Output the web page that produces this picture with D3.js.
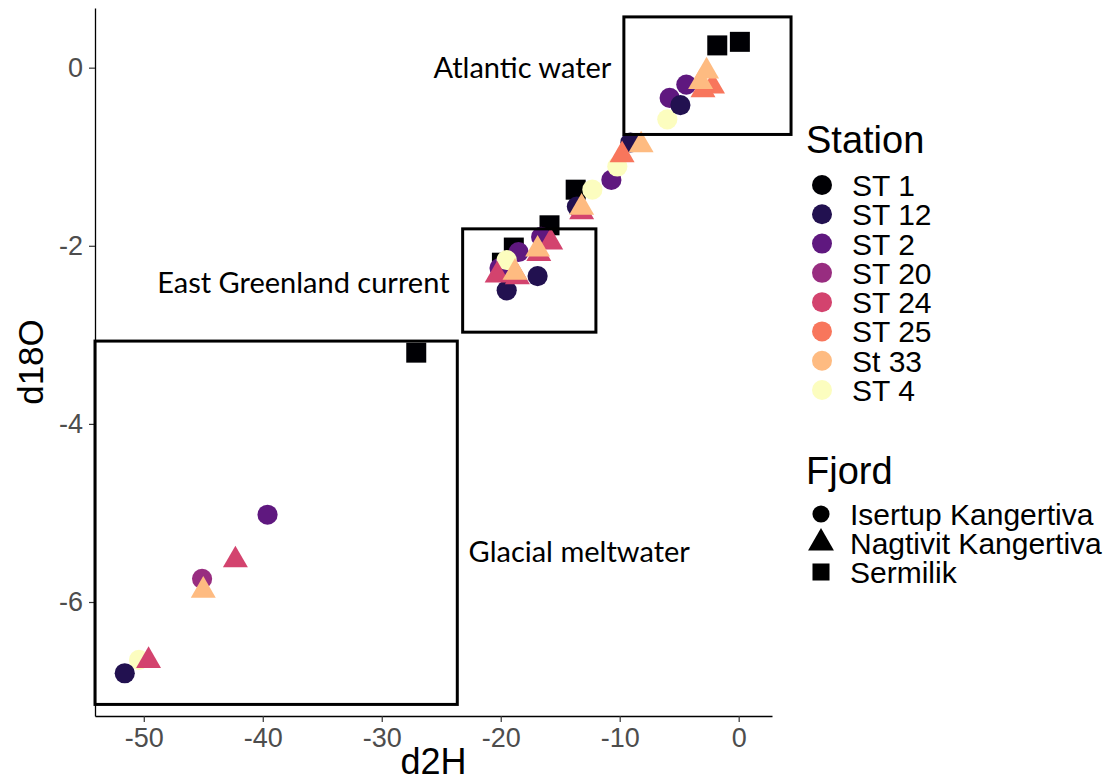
<!DOCTYPE html>
<html>
<head>
<meta charset="utf-8">
<script src="https://cdn.jsdelivr.net/npm/d3@7"></script>
<style>
  body { margin: 0; background: #fff; }
  svg { display: block; font-family: "Liberation Sans", Arial, sans-serif; }
  .tick text { fill: #4d4d4d; font-size: 27px; }
  .note { font-family: Lato, "Open Sans", sans-serif; font-size: 29px; fill: #000; }
</style>
</head>
<body>
<svg width="1117" height="783"></svg>
<script>
// station levels (legend order) and fjord levels
const STATIONS = ["ST 1", "ST 12", "ST 2", "ST 20", "ST 24", "ST 25", "St 33", "ST 4"];
const FJORDS = ["Isertup Kangertiva", "Nagtivit Kangertiva", "Sermilik"];

// samples, in drawing order
const station = [
    "ST 1", "ST 1", "ST 1", "ST 1", "ST 1", "ST 1", "ST 1",
    "ST 2", "ST 2", "ST 2", "ST 2", "ST 2", "ST 2", "ST 2",
    "ST 20",
    "ST 4", "ST 4", "ST 4", "ST 4", "ST 4",
    "ST 12", "ST 12", "ST 12", "ST 12", "ST 12", "ST 12",
    "ST 24", "ST 24", "ST 24", "ST 24", "ST 24", "ST 24", "ST 24",
    "ST 25", "ST 25", "ST 25",
    "St 33", "St 33", "St 33", "St 33", "St 33", "St 33", "St 33"
];
const fjord = [
    "Sermilik", "Sermilik", "Sermilik", "Sermilik", "Sermilik", "Sermilik", "Sermilik",
    "Isertup Kangertiva", "Isertup Kangertiva", "Isertup Kangertiva", "Isertup Kangertiva",
    "Isertup Kangertiva", "Isertup Kangertiva", "Isertup Kangertiva",
    "Isertup Kangertiva",
    "Isertup Kangertiva", "Isertup Kangertiva", "Isertup Kangertiva", "Isertup Kangertiva", "Isertup Kangertiva",
    "Isertup Kangertiva", "Isertup Kangertiva", "Isertup Kangertiva", "Isertup Kangertiva",
    "Isertup Kangertiva", "Isertup Kangertiva",
    "Nagtivit Kangertiva", "Nagtivit Kangertiva", "Nagtivit Kangertiva", "Nagtivit Kangertiva",
    "Nagtivit Kangertiva", "Nagtivit Kangertiva", "Nagtivit Kangertiva",
    "Nagtivit Kangertiva", "Nagtivit Kangertiva", "Nagtivit Kangertiva",
    "Nagtivit Kangertiva", "Nagtivit Kangertiva", "Nagtivit Kangertiva", "Nagtivit Kangertiva",
    "Nagtivit Kangertiva", "Nagtivit Kangertiva", "Nagtivit Kangertiva"
];
const d2H = [
    -1.8, 0.1, -13.7, -15.9, -18.9, -19.9, -27.1,
    -4.4, -5.8, -10.7, -16.6, -18.5, -20.1, -39.6,
    -45.1,
    -6.0, -10.2, -12.3, -19.5, -50.4,
    -4.9, -9.1, -13.6, -16.9, -19.5, -51.6,
    -13.2, -15.8, -16.8, -20.3, -18.6, -42.3, -49.6,
    -2.2, -3.0, -9.8,
    -3.2, -2.7, -8.2, -13.2, -16.9, -18.8, -45.0
];
const d18O = [
    0.25, 0.29, -1.37, -1.77, -2.02, -2.19, -3.2,
    -0.19, -0.34, -1.26, -1.9, -2.07, -2.25, -5.02,
    -5.74,
    -0.58, -1.11, -1.37, -2.16, -6.65,
    -0.42, -0.84, -1.56, -2.34, -2.5, -6.8,
    -1.62, -1.96, -2.09, -2.33, -2.35, -5.53, -6.66,
    -0.21, -0.25, -0.98,
    -0.16, -0.04, -0.87, -1.57, -2.04, -2.3, -5.87
];

// annotation boxes (data units) and their labels
const boxNames = ["Atlantic water", "East Greenland current", "Glacial meltwater"];
const boxX = [[-9.65, 4.4], [-23.2, -12.0], [-54.1, -23.65]];
const boxY = [[0.57, -0.75], [-1.81, -2.97], [-3.07, -7.15]];
const labelX = [-10.7, -24.3, -22.7];
const labelY = [-0.12, -2.53, -5.55];
const labelAnchor = ["end", "end", "start"];

const xTicks = [-50, -40, -30, -20, -10, 0];
const yTicks = [-6, -4, -2, 0];

const svg = d3.select("svg");
const mLeft = 95, mRight = 772, mTop = 8, mBottom = 716;

const x = d3.scaleLinear().domain([-54.1, 2.8]).range([mLeft, mRight]);
const y = d3.scaleLinear().domain([-7.28, 0.67]).range([mBottom, mTop]);

const color = d3.scaleOrdinal()
    .domain(STATIONS)
    .range(STATIONS.map((s, i) => d3.interpolateMagma(i / (STATIONS.length - 1))));

const shape = d3.scaleOrdinal()
    .domain(FJORDS)
    .range([d3.symbolCircle, d3.symbolTriangle, d3.symbolSquare]);
const shapeSize = d3.scaleOrdinal().domain(FJORDS).range([320, 270, 400]);
const keySize = d3.scaleOrdinal().domain(FJORDS).range([230, 290, 290]);

// axes
const plain = d => String(d);
const xAxis = svg.append("g")
    .attr("transform", `translate(0,${mBottom})`)
    .call(d3.axisBottom(x).tickValues(xTicks).tickFormat(plain).tickSize(6).tickPadding(6).tickSizeOuter(0));
const yAxis = svg.append("g")
    .attr("transform", `translate(${mLeft},0)`)
    .call(d3.axisLeft(y).tickValues(yTicks).tickFormat(plain).tickSize(6).tickPadding(6).tickSizeOuter(0));
[xAxis, yAxis].forEach(a => {
    a.attr("font-size", null).attr("font-family", null);
    a.select(".domain").attr("stroke", "#000").attr("stroke-width", 1.3);
    a.selectAll(".tick line").attr("stroke", "#333").attr("stroke-width", 1.2);
});

svg.append("text")
    .attr("x", (mLeft + mRight) / 2).attr("y", 774)
    .attr("text-anchor", "middle").attr("font-size", 36)
    .text("d2H");
svg.append("text")
    .attr("transform", `translate(43,${(mTop + mBottom) / 2}) rotate(-90)`)
    .attr("text-anchor", "middle").attr("font-size", 35)
    .text("d18O");

// points
const rows = d2H.map((v, i) => ({ x: v, y: d18O[i], st: station[i], fj: fjord[i] }));
svg.append("g").selectAll("path")
    .data(rows)
    .join("path")
    .attr("transform", d => `translate(${x(d.x)},${y(d.y)})`)
    .attr("d", d => d3.symbol().type(shape(d.fj)).size(shapeSize(d.fj))())
    .attr("fill", d => color(d.st));

// annotation boxes
svg.append("g").selectAll("rect")
    .data(boxNames)
    .join("rect")
    .attr("x", (d, i) => x(boxX[i][0]))
    .attr("y", (d, i) => y(boxY[i][0]))
    .attr("width", (d, i) => x(boxX[i][1]) - x(boxX[i][0]))
    .attr("height", (d, i) => y(boxY[i][1]) - y(boxY[i][0]))
    .attr("fill", "none")
    .attr("stroke", "#000")
    .attr("stroke-width", 3);

svg.append("g").selectAll("text")
    .data(boxNames)
    .join("text")
    .attr("class", "note")
    .attr("x", (d, i) => x(labelX[i]))
    .attr("y", (d, i) => y(labelY[i]))
    .attr("text-anchor", (d, i) => labelAnchor[i])
    .text(d => d);

// legend: Station
const legS = svg.append("g");
legS.append("text").attr("x", 806).attr("y", 153).attr("font-size", 38).text("Station");
const ly = d3.scalePoint().domain(STATIONS).range([185, 390]);
legS.selectAll("circle")
    .data(STATIONS)
    .join("circle")
    .attr("cx", 822).attr("cy", d => ly(d)).attr("r", 10)
    .attr("fill", d => color(d));
legS.selectAll("text.lab")
    .data(STATIONS)
    .join("text")
    .attr("class", "lab")
    .attr("x", 852).attr("y", d => ly(d) + 11)
    .attr("font-size", 30)
    .text(d => d);

// legend: Fjord
const legF = svg.append("g");
legF.append("text").attr("x", 806).attr("y", 484).attr("font-size", 38).text("Fjord");
const fy = d3.scalePoint().domain(FJORDS).range([514, 572]);
legF.selectAll("path")
    .data(FJORDS)
    .join("path")
    .attr("transform", d => `translate(821,${fy(d)})`)
    .attr("d", d => d3.symbol().type(shape(d)).size(keySize(d))())
    .attr("fill", "#000");
legF.selectAll("text.lab")
    .data(FJORDS)
    .join("text")
    .attr("class", "lab")
    .attr("x", 850).attr("y", d => fy(d) + 11)
    .attr("font-size", 30)
    .text(d => d);
</script>
</body>
</html>
